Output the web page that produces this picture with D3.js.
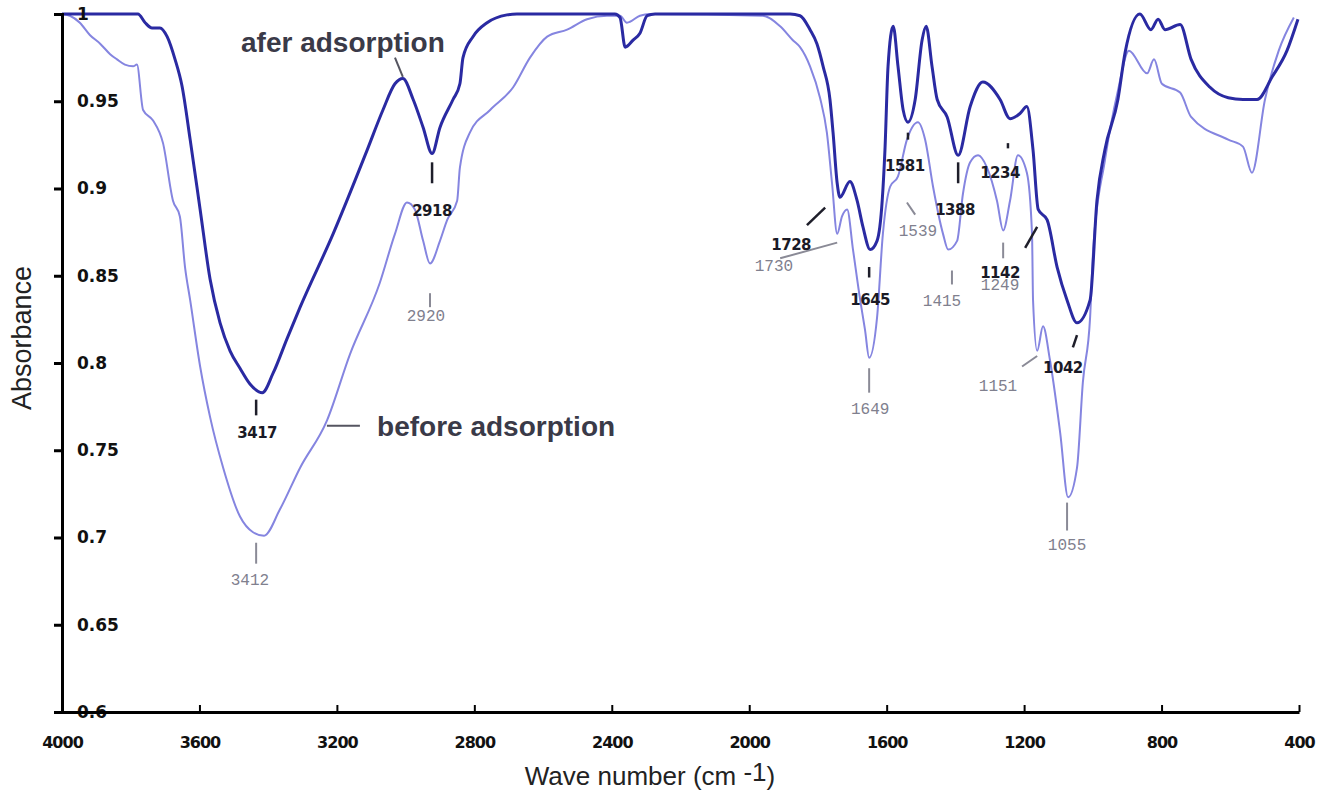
<!DOCTYPE html>
<html>
<head>
<meta charset="utf-8">
<script src="https://cdn.jsdelivr.net/npm/d3@7"></script>
<style>
  html, body { margin: 0; padding: 0; background: #fff; }
  svg { display: block; }
</style>
</head>
<body>
<script>
// wave number (cm-1), absorbance
const afterAdsorption = [
    [4000, 1.000], [3779, 1.000], [3758, 0.995], [3738, 0.992], [3715, 0.992], [3694, 0.987],
    [3671, 0.974], [3651, 0.959], [3627, 0.928], [3598, 0.888], [3569, 0.848], [3540, 0.823],
    [3511, 0.807], [3482, 0.797], [3453, 0.788], [3417, 0.783], [3386, 0.794], [3345, 0.814],
    [3307, 0.832], [3211, 0.874], [3112, 0.922], [3066, 0.945], [3031, 0.960], [3008, 0.963],
    [2978, 0.951], [2949, 0.935], [2923, 0.920], [2900, 0.935], [2862, 0.951], [2842, 0.960],
    [2833, 0.975], [2804, 0.987], [2763, 0.995], [2705, 0.9995], [2676, 1.000], [2391, 1.000],
    [2376, 0.998], [2361, 0.981], [2338, 0.985], [2318, 0.989], [2297, 0.999], [2274, 1.000],
    [1881, 1.000], [1852, 0.999], [1823, 0.991], [1803, 0.983], [1785, 0.970], [1765, 0.951],
    [1756, 0.932], [1744, 0.903], [1736, 0.895], [1707, 0.904], [1686, 0.893], [1669, 0.878],
    [1648, 0.865], [1628, 0.870], [1613, 0.893], [1605, 0.922], [1596, 0.970], [1581, 0.993],
    [1567, 0.970], [1552, 0.945], [1538, 0.938], [1517, 0.951], [1497, 0.985], [1485, 0.993],
    [1468, 0.970], [1453, 0.951], [1424, 0.941], [1392, 0.919], [1357, 0.947], [1320, 0.961],
    [1270, 0.951], [1241, 0.940], [1212, 0.943], [1192, 0.947], [1174, 0.922], [1159, 0.888],
    [1133, 0.882], [1104, 0.855], [1075, 0.836], [1046, 0.823], [1008, 0.836], [988, 0.893],
    [965, 0.922], [927, 0.951], [906, 0.978], [863, 1.000], [831, 0.991], [810, 0.997],
    [790, 0.991], [746, 0.994], [714, 0.974], [659, 0.958], [606, 0.952], [563, 0.951],
    [522, 0.951], [478, 0.964], [435, 0.979], [403, 0.997]
];

const beforeAdsorption = [
    [4000, 1.000], [3977, 0.999], [3948, 0.995], [3919, 0.988], [3889, 0.983], [3860, 0.977],
    [3840, 0.974], [3817, 0.971], [3793, 0.970], [3782, 0.971], [3764, 0.945], [3735, 0.939],
    [3706, 0.926], [3677, 0.893], [3657, 0.884], [3642, 0.855], [3627, 0.836], [3598, 0.798],
    [3569, 0.769], [3531, 0.740], [3482, 0.712], [3444, 0.703], [3412, 0.701], [3366, 0.716],
    [3307, 0.740], [3229, 0.767], [3162, 0.805], [3075, 0.846], [3031, 0.874], [2996, 0.892],
    [2973, 0.888], [2949, 0.870], [2929, 0.857], [2900, 0.870], [2879, 0.882], [2850, 0.893],
    [2842, 0.912], [2813, 0.932], [2754, 0.945], [2687, 0.958], [2638, 0.975], [2588, 0.987],
    [2530, 0.991], [2472, 0.997], [2414, 0.999], [2376, 0.999], [2356, 0.995], [2318, 0.999],
    [2289, 1.000], [1960, 0.999], [1910, 0.993], [1873, 0.985], [1852, 0.981], [1823, 0.970],
    [1794, 0.952], [1774, 0.932], [1759, 0.903], [1744, 0.874], [1730, 0.884], [1715, 0.888],
    [1698, 0.865], [1677, 0.836], [1663, 0.819], [1651, 0.803], [1628, 0.826], [1611, 0.874],
    [1590, 0.901], [1567, 0.907], [1541, 0.928], [1509, 0.938], [1488, 0.928], [1465, 0.901],
    [1436, 0.874], [1421, 0.865], [1395, 0.870], [1378, 0.897], [1357, 0.915], [1334, 0.919],
    [1308, 0.912], [1279, 0.893], [1261, 0.876], [1241, 0.893], [1218, 0.919], [1192, 0.909],
    [1177, 0.874], [1174, 0.836], [1162, 0.807], [1145, 0.821], [1125, 0.802], [1095, 0.760],
    [1072, 0.723], [1046, 0.740], [1029, 0.789], [1008, 0.826], [999, 0.865], [965, 0.916],
    [927, 0.956], [895, 0.979], [842, 0.966], [822, 0.974], [799, 0.960], [746, 0.955],
    [714, 0.941], [606, 0.928], [563, 0.924], [537, 0.909], [499, 0.951], [459, 0.979],
    [415, 0.998]
];

const xTicks = [4000, 3600, 3200, 2800, 2400, 2000, 1600, 1200, 800, 400];
const yTicks = [1, 0.95, 0.9, 0.85, 0.8, 0.75, 0.7, 0.65, 0.6];

// peak labels: text, wave number, absorbance of label centre
const afterLabels = [
    ['3417', 3432, 0.760], ['2918', 2923, 0.887], ['1728', 1878, 0.868], ['1645', 1648, 0.836],
    ['1581', 1547, 0.913], ['1388', 1401, 0.888], ['1234', 1270, 0.909], ['1142', 1270, 0.852],
    ['1042', 1087, 0.797]
];
const beforeLabels = [
    ['3412', 3453, 0.676], ['2920', 2941, 0.827], ['1730', 1928, 0.856], ['1649', 1648, 0.774],
    ['1539', 1509, 0.876], ['1415', 1439, 0.836], ['1249', 1270, 0.845], ['1151', 1276, 0.787],
    ['1055', 1075, 0.696]
];
// leader segments: [w1, a1, w2, a2]
const afterLeaders = [
    [3435, 0.779, 3435, 0.770], [2923, 0.915, 2923, 0.903], [1651, 0.855, 1651, 0.849],
    [1538, 0.932, 1538, 0.928], [1392, 0.915, 1392, 0.903], [1247, 0.926, 1247, 0.923],
    [1832, 0.879, 1779, 0.889], [1197, 0.866, 1162, 0.878], [1058, 0.809, 1046, 0.816]
];
const beforeLeaders = [
    [3435, 0.697, 3435, 0.685], [2929, 0.840, 2929, 0.832], [1651, 0.797, 1651, 0.783],
    [1410, 0.853, 1410, 0.845], [1261, 0.869, 1261, 0.860], [1075, 0.720, 1075, 0.704],
    [1910, 0.860, 1744, 0.869], [1541, 0.892, 1517, 0.885], [1206, 0.798, 1162, 0.804]
];
const seriesNotes = [
    { text: 'afer adsorption', w: 3479, a: 0.978, leader: [3031, 0.975, 3008, 0.964] },
    { text: 'before adsorption', w: 3083, a: 0.758, leader: [3229, 0.764, 3133, 0.764] }
];

const svgSize = { width: 1326, height: 794 };
const plot = { left: 62, right: 1299, top: 14, bottom: 712 };

const svg = d3.select('body')
    .append('svg')
    .attr('width', svgSize.width)
    .attr('height', svgSize.height);

const xScale = d3.scaleLinear().domain([4000, 400]).range([plot.left, plot.right]);
const yScale = d3.scaleLinear().domain([0.6, 1]).range([plot.bottom, plot.top]);

const line = d3.line()
    .x(d => xScale(d[0]))
    .y(d => yScale(d[1]))
    .curve(d3.curveMonotoneX);

svg.append('path')
    .datum(beforeAdsorption)
    .attr('d', line)
    .attr('fill', 'none')
    .attr('stroke', '#8585e0')
    .attr('stroke-width', 2)
    .attr('stroke-linejoin', 'round');

svg.append('path')
    .datum(afterAdsorption)
    .attr('d', line)
    .attr('fill', 'none')
    .attr('stroke', '#2a2aa2')
    .attr('stroke-width', 3)
    .attr('stroke-linejoin', 'round');

// axes
const yAxis = d3.axisLeft(yScale)
    .tickValues(yTicks)
    .tickFormat(d => String(d))
    .tickSizeOuter(0)
    .tickSize(8);
const gy = svg.append('g')
    .attr('transform', `translate(${plot.left}, 0)`)
    .call(yAxis);
gy.select('.domain').attr('stroke-width', 3);
gy.selectAll('.tick line').attr('stroke-width', 3);
gy.selectAll('.tick text')
    .attr('x', 15)
    .attr('text-anchor', 'start')
    .attr('font-family', 'DejaVu Sans')
    .attr('font-weight', 'bold')
    .attr('font-size', 17)
    .attr('fill', '#111');

const xAxis = d3.axisBottom(xScale)
    .tickValues(xTicks)
    .tickFormat(d3.format('d'))
    .tickSizeOuter(0)
    .tickSizeInner(-7)
    .tickPadding(25);
const gx = svg.append('g')
    .attr('transform', `translate(0, ${plot.bottom})`)
    .call(xAxis);
gx.select('.domain').attr('stroke-width', 3);
gx.selectAll('.tick line').attr('stroke-width', 2);
gx.selectAll('.tick text')
    .attr('font-family', 'DejaVu Sans')
    .attr('font-weight', 'bold')
    .attr('font-size', 16)
    .attr('letter-spacing', -1)
    .attr('fill', '#111');

// axis titles
svg.append('text')
    .attr('transform', `translate(22, 338) rotate(-90)`)
    .attr('text-anchor', 'middle')
    .attr('dy', '0.35em')
    .attr('font-family', 'Liberation Sans, Arial, sans-serif')
    .attr('font-size', 27)
    .attr('fill', '#222')
    .text('Absorbance');

const xTitle = svg.append('text')
    .attr('x', 650)
    .attr('y', 785)
    .attr('text-anchor', 'middle')
    .attr('font-family', 'Liberation Sans, Arial, sans-serif')
    .attr('font-size', 26)
    .attr('fill', '#222');
xTitle.append('tspan').text('Wave number (cm ');
xTitle.append('tspan').attr('dy', -4).text('-1');
xTitle.append('tspan').attr('dy', 4).text(')');

// peak labels and their ticks
function drawLeaders(list, color, width) {
    svg.append('g')
        .selectAll('line')
        .data(list)
        .enter()
        .append('line')
        .attr('x1', d => xScale(d[0]))
        .attr('y1', d => yScale(d[1]))
        .attr('x2', d => xScale(d[2]))
        .attr('y2', d => yScale(d[3]))
        .attr('stroke', color)
        .attr('stroke-width', width);
}
drawLeaders(beforeLeaders, '#8a8a96', 2);
drawLeaders(afterLeaders, '#1e1e2a', 2.5);

svg.append('g')
    .selectAll('text')
    .data(beforeLabels)
    .enter()
    .append('text')
    .attr('x', d => xScale(d[1]))
    .attr('y', d => yScale(d[2]))
    .attr('dy', '0.35em')
    .attr('text-anchor', 'middle')
    .attr('font-family', 'Liberation Mono, monospace')
    .attr('font-size', 16)
    .attr('fill', '#80808e')
    .text(d => d[0]);

svg.append('g')
    .selectAll('text')
    .data(afterLabels)
    .enter()
    .append('text')
    .attr('x', d => xScale(d[1]))
    .attr('y', d => yScale(d[2]))
    .attr('dy', '0.35em')
    .attr('text-anchor', 'middle')
    .attr('font-family', 'DejaVu Sans')
    .attr('font-weight', 'bold')
    .attr('font-size', 15)
    .attr('letter-spacing', -0.5)
    .attr('fill', '#1a1a26')
    .text(d => d[0]);

// series annotations
svg.append('g')
    .selectAll('line')
    .data(seriesNotes)
    .enter()
    .append('line')
    .attr('x1', d => xScale(d.leader[0]))
    .attr('y1', d => yScale(d.leader[1]))
    .attr('x2', d => xScale(d.leader[2]))
    .attr('y2', d => yScale(d.leader[3]))
    .attr('stroke', '#555560')
    .attr('stroke-width', 2);

svg.append('g')
    .selectAll('text')
    .data(seriesNotes)
    .enter()
    .append('text')
    .attr('x', d => xScale(d.w))
    .attr('y', d => yScale(d.a))
    .attr('font-family', 'Liberation Sans, Arial, sans-serif')
    .attr('font-weight', 'bold')
    .attr('font-size', 28)
    .attr('fill', '#3a3a48')
    .text(d => d.text);
</script>
</body>
</html>
